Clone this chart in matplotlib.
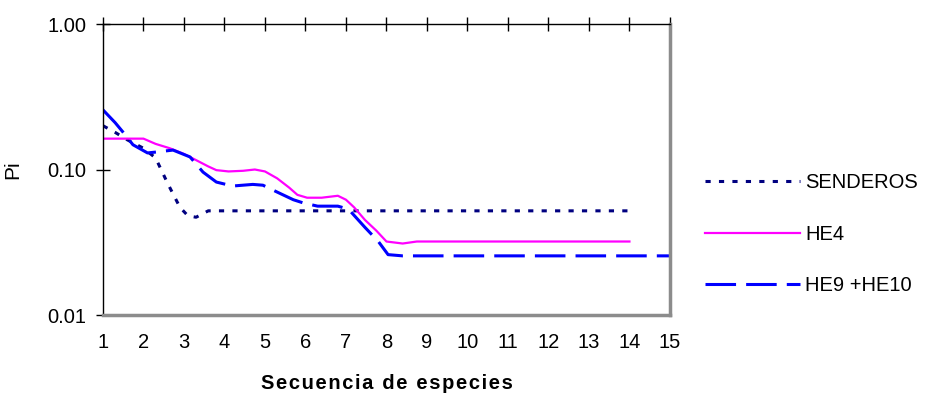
import matplotlib.pyplot as plt
from matplotlib.ticker import FixedLocator, NullLocator, FixedFormatter

plt.rcParams['font.family'] = ['Liberation Sans', 'DejaVu Sans']

# values
senderos_x = [1, 1.3, 1.6, 2.0, 2.3, 2.6, 2.9, 3.1, 3.3, 3.6, 4, 5, 6, 7, 8, 9, 10, 11, 12, 13, 14]
senderos_y = [0.20, 0.18, 0.16, 0.14, 0.12, 0.08, 0.055, 0.048, 0.047, 0.052, 0.052,
              0.052, 0.052, 0.052, 0.052, 0.052, 0.052, 0.052, 0.052, 0.052, 0.052]

he4_x = [1, 1.5, 2.0, 2.3, 2.65, 3.0, 3.3, 3.6, 3.8, 4.1, 4.46, 4.75, 5.0, 5.3, 5.6, 5.8,
         6.04, 6.4, 6.8, 7.0, 7.2, 7.47, 7.75, 8.0, 8.4, 8.75, 9, 10, 11, 12, 13, 14]
he4_y = [0.163, 0.163, 0.163, 0.15, 0.14, 0.128, 0.116, 0.105, 0.099, 0.097, 0.098, 0.10,
         0.097, 0.087, 0.075, 0.067, 0.064, 0.064, 0.066, 0.062, 0.055, 0.045, 0.038, 0.032,
         0.031, 0.032, 0.032, 0.032, 0.032, 0.032, 0.032, 0.032]

he9_x = [1, 1.3, 1.5, 1.74, 2.1, 2.33, 2.73, 3.15, 3.47, 3.8, 4.2, 4.7, 4.95, 5.3, 5.7, 5.94,
         6.3, 6.8, 7.0, 7.1, 7.47, 7.8, 8.04, 8.4, 9, 10, 11, 12, 13, 14, 15]
he9_y = [0.257, 0.21, 0.18, 0.148, 0.13, 0.132, 0.136, 0.122, 0.096, 0.082, 0.077, 0.079,
         0.078, 0.07, 0.062, 0.059, 0.056, 0.056, 0.054, 0.052, 0.040, 0.032, 0.026, 0.0255,
         0.0255, 0.0255, 0.0255, 0.0255, 0.0255, 0.0255, 0.0255]

y_ticks = [0.01, 0.1, 1.0]
y_labels = ['0.01', '0.10', '1.00']
x_ticks = list(range(1, 16))

fig = plt.figure(figsize=(9.31, 3.95), dpi=100)
ax = fig.add_axes([0.1106, 0.2025, 0.609, 0.7367])

ax.plot(senderos_x, senderos_y, color='#000080', lw=2.2, dashes=(1.7, 2.7), label='SENDEROS')
ax.plot(he4_x, he4_y, color='#FF00FF', lw=1.6, label='HE4')
ax.plot(he9_x, he9_y, color='#0000FF', lw=2.2, dashes=(10, 3.3), label='HE9 +HE10')

ax.set_yscale('log')
ax.set_ylim(0.01, 1.0)
ax.set_xlim(1, 15)
ax.yaxis.set_major_locator(FixedLocator(y_ticks))
ax.yaxis.set_major_formatter(FixedFormatter(y_labels))
ax.yaxis.set_minor_locator(NullLocator())
ax.set_xticks(x_ticks)
ax.tick_params(axis='y', direction='inout', length=10, width=1, labelsize=14.5, pad=7)
ax.tick_params(axis='x', top=True, bottom=False, direction='inout', length=10, width=1,
               labelsize=14.5, pad=8)

for s in ['left', 'top']:
    ax.spines[s].set_color('black')
    ax.spines[s].set_linewidth(1)
for s in ['right', 'bottom']:
    ax.spines[s].set_color('#8c8c8c')
    ax.spines[s].set_linewidth(2.5)

label = '\u200a'.join('Secuencia de especies')
ax.set_xlabel(label, fontsize=14.5, fontweight='bold', labelpad=16)
ax.set_ylabel('Pi', fontsize=15)
ax.yaxis.set_label_coords(-0.143, 0.5)

fig.legend(loc='upper left', bbox_to_anchor=(0.749, 0.582), frameon=False, fontsize=14.5,
           handlelength=4.7, handletextpad=0.25, labelspacing=1.62, borderaxespad=0)

fig.savefig('out.png', dpi=100)
